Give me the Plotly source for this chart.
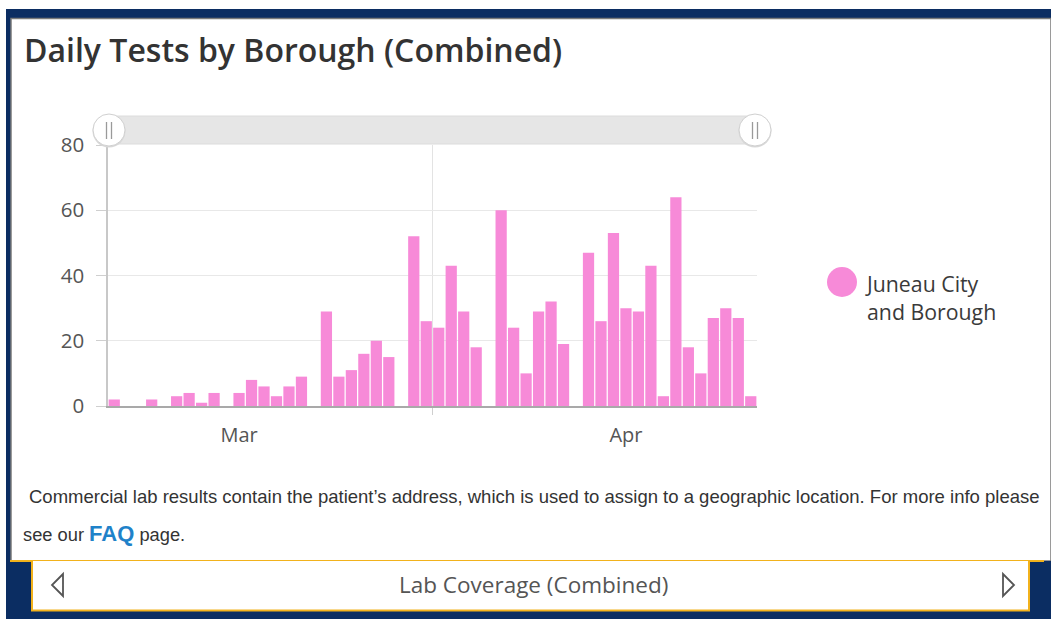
import plotly.graph_objects as go

# ---------------- data ----------------
dates = [
    "2020-03-06", "2020-03-07", "2020-03-08", "2020-03-09", "2020-03-10", "2020-03-11",
    "2020-03-12", "2020-03-13", "2020-03-14", "2020-03-15", "2020-03-16", "2020-03-17",
    "2020-03-18", "2020-03-19", "2020-03-20", "2020-03-21", "2020-03-22", "2020-03-23",
    "2020-03-24", "2020-03-25", "2020-03-26", "2020-03-27", "2020-03-28", "2020-03-29",
    "2020-03-30", "2020-03-31", "2020-04-01", "2020-04-02", "2020-04-03", "2020-04-04",
    "2020-04-05", "2020-04-06", "2020-04-07", "2020-04-08", "2020-04-09", "2020-04-10",
    "2020-04-11", "2020-04-12", "2020-04-13", "2020-04-14", "2020-04-15", "2020-04-16",
    "2020-04-17", "2020-04-18", "2020-04-19", "2020-04-20", "2020-04-21", "2020-04-22",
    "2020-04-23", "2020-04-24", "2020-04-25", "2020-04-26",
]
juneau_tests = [
    2, 0, 0, 2, 0, 3,
    4, 1, 4, 0, 4, 8,
    6, 3, 6, 9, 0, 29,
    9, 11, 16, 20, 15, 0,
    52, 26, 24, 43, 29, 18,
    0, 60, 24, 10, 29, 32,
    19, 0, 47, 26, 53, 30,
    29, 43, 3, 64, 18, 10,
    27, 30, 27, 3,
]
series_name = "Juneau City<br>and Borough"
y_ticks = [0, 20, 40, 60, 80]
x_range = ["2020-03-06", "2020-04-27"]

title_text = "Daily Tests by Borough (Combined)"
note_line1 = "Commercial lab results contain the patient\u2019s address, which is used to assign to a geographic location. For more info please"
tab_label = "Lab Coverage (Combined)"

# ---------------- geometry helpers ----------------
W, H = 1051, 619
def fx(p):
    return p / W
def fy(p):
    return 1 - p / H

NAVY = "#0b2d62"
GOLD = "#f2b21c"
PINK = "#f78ad8"
UI_FONT = "Open Sans"

fig = go.Figure()
fig.add_trace(go.Bar(
    x=dates, y=juneau_tests, name=series_name,
    xperiod=86400000, xperiodalignment="middle",
    marker=dict(color=PINK, line=dict(width=0)),
    showlegend=False, hoverinfo="skip",
))

shapes = []
# outer frame
shapes.append(dict(type="rect", xref="paper", yref="paper", layer="below",
                   x0=fx(6), x1=fx(1051), y0=fy(619), y1=fy(9),
                   fillcolor=NAVY, line=dict(width=0)))
# white panel
shapes.append(dict(type="rect", xref="paper", yref="paper", layer="below",
                   x0=fx(11), x1=fx(1051), y0=fy(561), y1=fy(18.5),
                   fillcolor="white", line=dict(color="#7a7a7a", width=1.5)))
# bottom navy band
shapes.append(dict(type="rect", xref="paper", yref="paper", layer="below",
                   x0=fx(6), x1=fx(1051), y0=fy(619), y1=fy(561),
                   fillcolor=NAVY, line=dict(width=0)))
# gold line along panel bottom
shapes.append(dict(type="line", xref="paper", yref="paper", layer="below",
                   x0=fx(10), x1=fx(1044), y0=fy(561), y1=fy(561),
                   line=dict(color=GOLD, width=2)))
# tab
shapes.append(dict(type="rect", xref="paper", yref="paper", layer="below",
                   x0=fx(32), x1=fx(1029), y0=fy(610.5), y1=fy(561),
                   fillcolor="white", line=dict(width=0)))
shapes.append(dict(type="path", xref="paper", yref="paper", layer="below",
                   path=f"M {fx(32)},{fy(561)} L {fx(32)},{fy(610.5)} L {fx(1029)},{fy(610.5)} L {fx(1029)},{fy(561)}",
                   line=dict(color=GOLD, width=2)))
# tab arrows
shapes.append(dict(type="path", xref="paper", yref="paper",
                   path=f"M {fx(63)},{fy(574)} L {fx(52)},{fy(585)} L {fx(63)},{fy(596)} Z",
                   line=dict(color="#555555", width=1.8)))
shapes.append(dict(type="path", xref="paper", yref="paper",
                   path=f"M {fx(1003)},{fy(574)} L {fx(1014)},{fy(585)} L {fx(1003)},{fy(596)} Z",
                   line=dict(color="#555555", width=1.8)))
# scrollbar
shapes.append(dict(type="rect", xref="paper", yref="paper",
                   x0=fx(109), x1=fx(755), y0=fy(144), y1=fy(116),
                   fillcolor="#e6e6e6", line=dict(color="#dcdcdc", width=1)))
for cx in (109, 755):
    shapes.append(dict(type="circle", xref="paper", yref="paper",
                       x0=fx(cx - 16.5), x1=fx(cx + 16.5), y0=fy(147.5), y1=fy(114.5),
                       fillcolor="#d8d8d8", line=dict(width=0)))
    shapes.append(dict(type="circle", xref="paper", yref="paper",
                       x0=fx(cx - 16), x1=fx(cx + 16), y0=fy(146), y1=fy(114),
                       fillcolor="white", line=dict(color="#d0d0d0", width=1)))
    for dx in (-2.5, 2.5):
        shapes.append(dict(type="line", xref="paper", yref="paper",
                           x0=fx(cx + dx), x1=fx(cx + dx), y0=fy(122), y1=fy(139),
                           line=dict(color="#9a9a9a", width=1.3)))
# legend marker
shapes.append(dict(type="circle", xref="paper", yref="paper",
                   x0=fx(827), x1=fx(857), y0=fy(297), y1=fy(267),
                   fillcolor=PINK, line=dict(width=0)))
fig.update_layout(shapes=shapes)

ann = []
ann.append(dict(text=title_text, xref="paper", yref="paper", x=fx(22), y=fy(50),
                xanchor="left", yanchor="middle", showarrow=False,
                font=dict(family=UI_FONT, size=32, color="#333333", weight=600)))
ann.append(dict(text=series_name, xref="paper", yref="paper", x=fx(863), y=fy(297),
                xanchor="left", yanchor="middle", align="left", showarrow=False,
                font=dict(family=UI_FONT, size=21.3, color="#3a3a3a")))
ann.append(dict(text=note_line1, xref="paper", yref="paper", x=fx(27), y=fy(496),
                xanchor="left", yanchor="middle", showarrow=False,
                font=dict(family="Liberation Sans", size=18.5, color="#333333")))
ann.append(dict(text="see our <b><span style='color:#1f82c9;font-size:22px'>FAQ</span></b> page.",
                xref="paper", yref="paper", x=fx(21), y=fy(533),
                xanchor="left", yanchor="middle", showarrow=False,
                font=dict(family="Liberation Sans", size=18.3, color="#333333")))
ann.append(dict(text=tab_label, xref="paper", yref="paper", x=fx(533), y=fy(584),
                xanchor="center", yanchor="middle", showarrow=False,
                font=dict(family=UI_FONT, size=22.5, color="#555555")))
fig.update_layout(annotations=ann)

fig.update_layout(
    width=W, height=H, autosize=False,
    margin=dict(l=0, r=0, t=0, b=0, pad=0, autoexpand=False),
    paper_bgcolor="white", plot_bgcolor="rgba(0,0,0,0)",
    bargap=0.1,
    showlegend=False,
    xaxis=dict(
        domain=[fx(108), fx(757)],
        type="date", range=x_range,
        dtick="M1", tick0="2020-03-01", ticklabelmode="period", tickformat="%b",
        showgrid=True, gridcolor="#e3e3e3", gridwidth=1,
        ticks="outside", ticklen=7, tickcolor="#cfcfcf",
        showline=True, linecolor="#a9a9a9", linewidth=1.5,
        tickfont=dict(family=UI_FONT, size=20, color="#555555"),
        ticklabelstandoff=3, automargin=False,
        fixedrange=True,
    ),
    yaxis=dict(
        domain=[fy(406), fy(145)],
        range=[0, 80], tickvals=y_ticks,
        showgrid=True, gridcolor="#e8e8e8", gridwidth=1,
        zeroline=False,
        ticks="outside", ticklen=10, tickcolor="#cfcfcf",
        showline=True, linecolor="#c8c8c8", linewidth=1.5,
        tickfont=dict(family=UI_FONT, size=20.5, color="#555555"),
        ticklabelstandoff=8, automargin=False,
        fixedrange=True,
    ),
)

fig.write_html(
    "out.html",
    config={"displayModeBar": False},
    post_script="document.body.style.margin='0';document.body.style.overflow='hidden';",
)
